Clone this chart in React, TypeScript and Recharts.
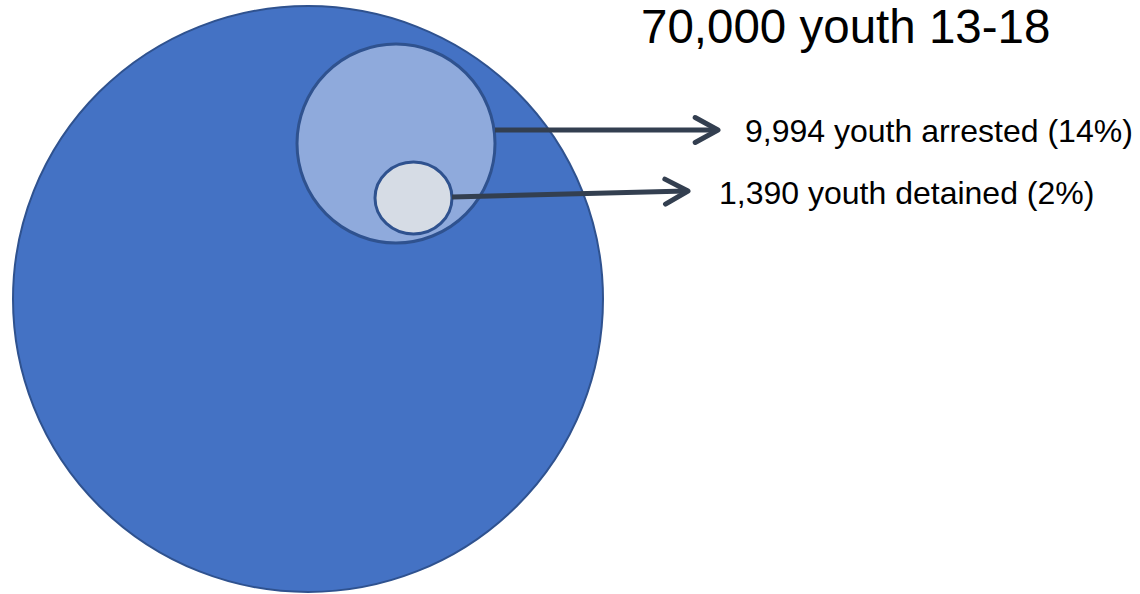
import React from "react";
import { ScatterChart, XAxis, YAxis, ReferenceArea, ReferenceLine, ReferenceDot } from "recharts";

// ---- data ----
const groups = ["youth 13-18", "youth arrested", "youth detained"];
const counts = [70000, 9994, 1390];
const shares = [null, 14, 2];

// ---- layout (page pixel coordinates used as data domain) ----
const circleBoxes = [
  { x1: 13, x2: 603, y1: 6, y2: 592 },
  { x1: 297, x2: 495, y1: 44, y2: 243 },
  { x1: 375, x2: 452, y1: 162, y2: 234 },
];
const fills = ["#4472C4", "#8FAADC", "#D6DCE5"];
const strokeW = [2, 3, 3];
const arrows = [
  [{ x: 495, y: 130 }, { x: 718, y: 130 }],
  [{ x: 452, y: 197 }, { x: 688, y: 191 }],
];
const labelPos = [
  { x: 641, y: 43, size: 47.5 },
  { x: 745, y: 142, size: 32 },
  { x: 719, y: 204, size: 32 },
];

const fmt = (n: number) => n.toLocaleString("en-US");
const labelText = (i: number) =>
  shares[i] == null ? `${fmt(counts[i])} ${groups[i]}` : `${fmt(counts[i])} ${groups[i]} (${shares[i]}%)`;

const Ellipse = (fill: string, sw: number) => (p: any) => {
  const { x, y, width, height } = p;
  return (
    <ellipse
      cx={x + width / 2}
      cy={y + height / 2}
      rx={width / 2}
      ry={height / 2}
      fill={fill}
      stroke="#2F528F"
      strokeWidth={sw}
    />
  );
};

const Arrow = (p: any) => {
  const { x1, y1, x2, y2 } = p;
  const ang = Math.atan2(y2 - y1, x2 - x1);
  const len = 26;
  const spread = 0.5;
  const ax = x2 - len * Math.cos(ang - spread);
  const ay = y2 - len * Math.sin(ang - spread);
  const bx = x2 - len * Math.cos(ang + spread);
  const by = y2 - len * Math.sin(ang + spread);
  return (
    <g>
      <line x1={x1} y1={y1} x2={x2 - 2 * Math.cos(ang)} y2={y2 - 2 * Math.sin(ang)} stroke="#333F50" strokeWidth={5} />
      <polyline
        points={`${ax},${ay} ${x2},${y2} ${bx},${by}`}
        fill="none"
        stroke="#333F50"
        strokeWidth={5}
        strokeLinecap="round"
        strokeLinejoin="round"
      />
    </g>
  );
};

const TextShape = (txt: string, size: number) => (p: any) => (
  <text x={p.cx} y={p.cy} fontSize={size} fontFamily="Liberation Sans, Arial, sans-serif" fill="#000">
    {txt}
  </text>
);

export default function App() {
  return (
    <div style={{ position: "absolute", left: 0, top: 0, width: 1140, height: 594 }}>
      <ScatterChart width={1140} height={594} margin={{ top: 0, right: 0, bottom: 0, left: 0 }}>
        <XAxis type="number" dataKey="x" domain={[0, 1140]} allowDataOverflow hide />
        <YAxis type="number" dataKey="y" domain={[0, 594]} allowDataOverflow reversed hide />
        {circleBoxes.map((b, i) => (
          <ReferenceArea
            key={`c${i}`}
            x1={b.x1}
            x2={b.x2}
            y1={b.y1}
            y2={b.y2}
            ifOverflow="visible"
            shape={Ellipse(fills[i], strokeW[i])}
          />
        ))}
        {arrows.map((seg, i) => (
          <ReferenceLine key={`a${i}`} segment={seg} ifOverflow="visible" shape={Arrow} />
        ))}
        {labelPos.map((l, i) => (
          <ReferenceDot key={`t${i}`} x={l.x} y={l.y} r={0} ifOverflow="visible" shape={TextShape(labelText(i), l.size)} />
        ))}
      </ScatterChart>
    </div>
  );
}
